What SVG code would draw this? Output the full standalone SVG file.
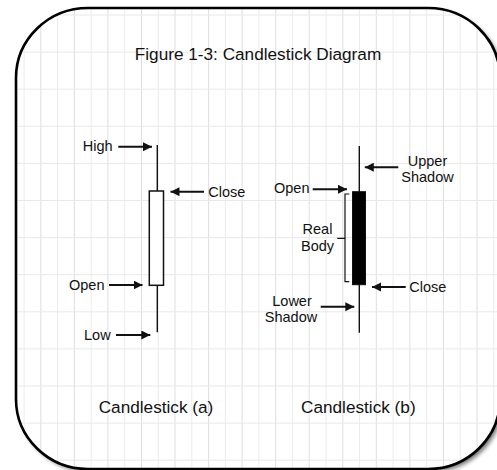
<svg xmlns="http://www.w3.org/2000/svg" width="497" height="470" viewBox="0 0 497 470">
<style>
  .t { font-family: "Liberation Sans", Arial, sans-serif; fill: #111; }
  .lbl { font-size: 14.5px; }
  .big { font-size: 17.2px; }
  .gv { stroke: #ececec; stroke-width: 1; }
  .gv2 { stroke: #dedede; stroke-width: 1; }
  .gh { stroke: #e8e8e8; stroke-width: 1; }
  .wick { stroke: #111; stroke-width: 1.4; fill: none; }
  .arr { stroke: #111; stroke-width: 2; fill: none; marker-end: url(#ah); }
  .br { stroke: #111; stroke-width: 1.2; fill: none; }
</style>
<defs>
  <marker id="ah" markerUnits="userSpaceOnUse" markerWidth="10" markerHeight="10" refX="9" refY="4.5" orient="auto">
    <path d="M0,0 L9,4.5 L0,9 z" fill="#111"/>
  </marker>
  <filter id="sh" x="-5%" y="-5%" width="115%" height="115%">
    <feGaussianBlur in="SourceAlpha" stdDeviation="2.2"/>
    <feOffset dx="3" dy="3" result="b"/>
    <feComponentTransfer><feFuncA type="linear" slope="0.55"/></feComponentTransfer>
    <feMerge><feMergeNode/><feMergeNode in="SourceGraphic"/></feMerge>
  </filter>
  <clipPath id="cp"><rect x="16" y="8" width="484" height="461" rx="72" ry="70"/></clipPath>
</defs>

<g id="frame">
  <rect x="16" y="8" width="484" height="461" rx="72" ry="70" fill="#fff" filter="url(#sh)"/>
  <g id="grid" clip-path="url(#cp)">
    <g class="gv">
      <line x1="24.1" y1="0" x2="24.1" y2="470"/><line x1="57.6" y1="0" x2="57.6" y2="470"/>
      <line x1="91.2" y1="0" x2="91.2" y2="470"/><line x1="124.7" y1="0" x2="124.7" y2="470"/>
      <line x1="158.3" y1="0" x2="158.3" y2="470"/><line x1="191.8" y1="0" x2="191.8" y2="470"/>
      <line x1="225.4" y1="0" x2="225.4" y2="470"/><line x1="258.9" y1="0" x2="258.9" y2="470"/>
      <line x1="292.5" y1="0" x2="292.5" y2="470"/><line x1="326" y1="0" x2="326" y2="470"/>
      <line x1="359.6" y1="0" x2="359.6" y2="470"/><line x1="393.1" y1="0" x2="393.1" y2="470"/>
      <line x1="426.7" y1="0" x2="426.7" y2="470"/><line x1="460.2" y1="0" x2="460.2" y2="470"/>
      <line x1="493.8" y1="0" x2="493.8" y2="470"/>
    </g>
    <g class="gv2">
      <line x1="40.8" y1="0" x2="40.8" y2="470"/><line x1="74.4" y1="0" x2="74.4" y2="470"/>
      <line x1="107.9" y1="0" x2="107.9" y2="470"/><line x1="141.5" y1="0" x2="141.5" y2="470"/>
      <line x1="175" y1="0" x2="175" y2="470"/><line x1="208.6" y1="0" x2="208.6" y2="470"/>
      <line x1="242.1" y1="0" x2="242.1" y2="470"/><line x1="275.7" y1="0" x2="275.7" y2="470"/>
      <line x1="309.2" y1="0" x2="309.2" y2="470"/><line x1="342.8" y1="0" x2="342.8" y2="470"/>
      <line x1="376.3" y1="0" x2="376.3" y2="470"/><line x1="409.9" y1="0" x2="409.9" y2="470"/>
      <line x1="443.4" y1="0" x2="443.4" y2="470"/><line x1="477" y1="0" x2="477" y2="470"/>
    </g>
    <g class="gh">
      <line x1="0" y1="15" x2="500" y2="15"/><line x1="0" y1="52.1" x2="500" y2="52.1"/>
      <line x1="0" y1="89.2" x2="500" y2="89.2"/><line x1="0" y1="126.3" x2="500" y2="126.3"/>
      <line x1="0" y1="163.4" x2="500" y2="163.4"/><line x1="0" y1="200.5" x2="500" y2="200.5"/>
      <line x1="0" y1="237.6" x2="500" y2="237.6"/><line x1="0" y1="274.7" x2="500" y2="274.7"/>
      <line x1="0" y1="311.8" x2="500" y2="311.8"/><line x1="0" y1="348.9" x2="500" y2="348.9"/>
      <line x1="0" y1="386" x2="500" y2="386"/><line x1="0" y1="423.1" x2="500" y2="423.1"/>
      <line x1="0" y1="460.2" x2="500" y2="460.2"/>
    </g>
  </g>
  <rect x="16" y="8" width="484" height="461" rx="72" ry="70" fill="none" stroke="#000" stroke-width="2.6"/>
</g>

<text id="title" class="t big" x="258" y="60" text-anchor="middle">Figure 1-3: Candlestick Diagram</text>

<g id="candle-a">
  <line class="wick" x1="157.3" y1="145" x2="157.3" y2="191"/>
  <line class="wick" x1="157.3" y1="285.3" x2="157.3" y2="332.3"/>
  <rect x="149.3" y="191" width="14.2" height="94.3" fill="#fff" stroke="#111" stroke-width="1.5"/>
</g>

<g id="candle-b">
  <line class="wick" x1="359.3" y1="146" x2="359.3" y2="332.7"/>
  <rect x="352.5" y="191.7" width="13" height="93" fill="#000" stroke="#111" stroke-width="1"/>
  <path class="br" d="M349.3,194 H345 V281.7 H349.3 M345,238.3 H337.3"/>
</g>

<g id="connectors">
  <line class="arr" x1="118.3" y1="146.7" x2="152" y2="146.7"/>
  <line class="arr" x1="204" y1="191.7" x2="170.5" y2="191.7"/>
  <line class="arr" x1="109" y1="285" x2="142.5" y2="285"/>
  <line class="arr" x1="116" y1="335" x2="150.3" y2="335"/>
  <line class="arr" x1="398.3" y1="167.3" x2="364.8" y2="167.3"/>
  <line class="arr" x1="312.7" y1="189.3" x2="347" y2="189.3"/>
  <line class="arr" x1="405.7" y1="287" x2="372" y2="287"/>
  <line class="arr" x1="320.7" y1="306.7" x2="354.3" y2="306.7"/>
</g>

<g id="labels-a">
  <text class="t lbl" x="82.7" y="150.7">High</text>
  <text class="t lbl" x="208.3" y="196.7">Close</text>
  <text class="t lbl" x="69" y="289.5">Open</text>
  <text class="t lbl" x="84" y="339.5">Low</text>
  <text class="t big" x="156" y="412.7" text-anchor="middle">Candlestick (a)</text>
</g>

<g id="labels-b">
  <text class="t lbl" x="427.5" y="165.7" text-anchor="middle">Upper</text>
  <text class="t lbl" x="427.5" y="181.7" text-anchor="middle">Shadow</text>
  <text class="t lbl" x="274" y="193">Open</text>
  <text class="t lbl" x="317.5" y="234.3" text-anchor="middle">Real</text>
  <text class="t lbl" x="317.5" y="251" text-anchor="middle">Body</text>
  <text class="t lbl" x="409.3" y="292.3">Close</text>
  <text class="t lbl" x="292" y="305.7" text-anchor="middle">Lower</text>
  <text class="t lbl" x="291" y="321.5" text-anchor="middle">Shadow</text>
  <text class="t big" x="358.3" y="412.7" text-anchor="middle">Candlestick (b)</text>
</g>
</svg>
